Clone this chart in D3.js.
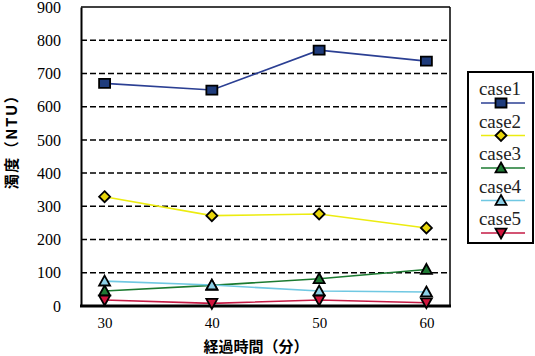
<!DOCTYPE html>
<html><head><meta charset="utf-8">
<script src="https://cdn.jsdelivr.net/npm/d3@7"></script>
<style>body{margin:0;background:#fff}svg{display:block}</style>
</head><body><svg id="c" width="535" height="356"></svg>
<script>
const categories = ["30","40","50","60"];
const case1 = [670, 650, 770, 737];
const case2 = [329, 272, 277, 235];
const case3 = [45, 62, 82, 110];
const case4 = [75, 63, 45, 42];
const case5 = [18, 8, 18, 10];
const yTicks = [0,100,200,300,400,500,600,700,800,900];
const seriesNames = ["case1","case2","case3","case4","case5"];

const series = [
  {name:seriesNames[0], values:case1, line:"#2b3f93", fill:"#1f3c7c", shape:"square"},
  {name:seriesNames[1], values:case2, line:"#ecec10", fill:"#e8d60a", shape:"diamond"},
  {name:seriesNames[2], values:case3, line:"#1b7a30", fill:"#1f7a34", shape:"triUp"},
  {name:seriesNames[3], values:case4, line:"#70c8e2", fill:"#8ccfe6", shape:"triUp"},
  {name:seriesNames[4], values:case5, line:"#c41a44", fill:"#d0143c", shape:"triDown"}
];

const svg = d3.select("#c");
const L=81, R=450, T=7, B=306;
const x = d3.scalePoint().domain(categories).range([L,R]).padding(0.22);
const y = d3.scaleLinear().domain([0,900]).range([B,T]);
const serif = "'Liberation Serif','DejaVu Serif',serif";

svg.append("g").selectAll("line").data(yTicks.filter(d=>d>0&&d<900)).join("line")
  .attr("x1",L).attr("x2",R).attr("y1",d=>y(d)).attr("y2",d=>y(d))
  .attr("stroke","#000").attr("stroke-width",1.5).attr("stroke-dasharray","6,3");

svg.append("line").attr("x1",L).attr("x2",R).attr("y1",T).attr("y2",T).attr("stroke","#000").attr("stroke-width",1.5);
svg.append("line").attr("x1",R).attr("x2",R).attr("y1",T).attr("y2",B).attr("stroke","#000").attr("stroke-width",1.5);

const ya = svg.append("g").attr("transform",`translate(${L},0)`)
  .call(d3.axisLeft(y).tickValues(yTicks).tickSize(0).tickPadding(20));
ya.attr("font-family",null);
ya.select(".domain").attr("stroke","#000").attr("stroke-width",2);
ya.selectAll("text").style("font-family",serif).attr("font-size",16).attr("fill","#000");

const xa = svg.append("g").attr("transform",`translate(0,${B})`)
  .call(d3.axisBottom(x).tickSize(0).tickPadding(11));
xa.attr("font-family",null);
xa.select(".domain").remove();
xa.selectAll("text").style("font-family",serif).attr("font-size",15).attr("fill","#000");
svg.append("line").attr("x1",L-1).attr("x2",R+1).attr("y1",B).attr("y2",B).attr("stroke","#000").attr("stroke-width",3);

function shapePath(shape, s){
  const h=s/2;
  if(shape==="square") return `M${-h},${-h+1}H${h}V${h-1}H${-h}Z`;
  if(shape==="diamond") return `M0,${-h}L${h},0L0,${h}L${-h},0Z`;
  if(shape==="triUp") return `M0,${-h}L${h},${h*0.8}L${-h},${h*0.8}Z`;
  if(shape==="triDown") return `M0,${h}L${h},${-h*0.8}L${-h},${-h*0.8}Z`;
}

const line = d3.line().x((d,i)=>x(categories[i])).y(d=>y(d));
const plot = svg.append("g");
series.forEach(s=>{
  plot.append("path").datum(s.values).attr("d",line).attr("fill","none")
    .attr("stroke",s.line).attr("stroke-width",1.6);
});
series.forEach(s=>{
  plot.append("g").selectAll("path").data(s.values).join("path")
    .attr("transform",(d,i)=>`translate(${x(categories[i])},${y(d)})`)
    .attr("d",shapePath(s.shape,11)).attr("fill",s.fill)
    .attr("stroke","#000").attr("stroke-width",1.8);
});

svg.append("text").attr("transform","translate(17,138) rotate(-90)")
  .attr("text-anchor","middle").attr("font-family","Noto Sans CJK JP").attr("font-weight","bold")
  .attr("font-size",15).attr("letter-spacing",1.5).text("濁度（NTU）");
svg.append("text").attr("x",256).attr("y",352).attr("text-anchor","middle")
  .attr("font-family","Noto Sans CJK JP").attr("font-weight","bold").attr("font-size",15)
  .text("経過時間（分）");

const lg = svg.append("g");
lg.append("rect").attr("x",468).attr("y",72).attr("width",65).attr("height",171)
  .attr("fill","#fff").attr("stroke","#000").attr("stroke-width",2);
series.forEach((s,i)=>{
  const ty = 95 + i*32.5, ly = 103 + i*32.5;
  lg.append("text").attr("x",500).attr("y",ty).attr("text-anchor","middle")
    .style("font-family",serif).attr("font-size",19).attr("fill","#222").text(s.name);
  lg.append("line").attr("x1",481).attr("x2",525).attr("y1",ly).attr("y2",ly)
    .attr("stroke",s.line).attr("stroke-width",1.6);
  lg.append("path").attr("transform",`translate(501,${ly})`).attr("d",shapePath(s.shape,11))
    .attr("fill",s.fill).attr("stroke","#000").attr("stroke-width",1.8);
});
</script></body></html>
